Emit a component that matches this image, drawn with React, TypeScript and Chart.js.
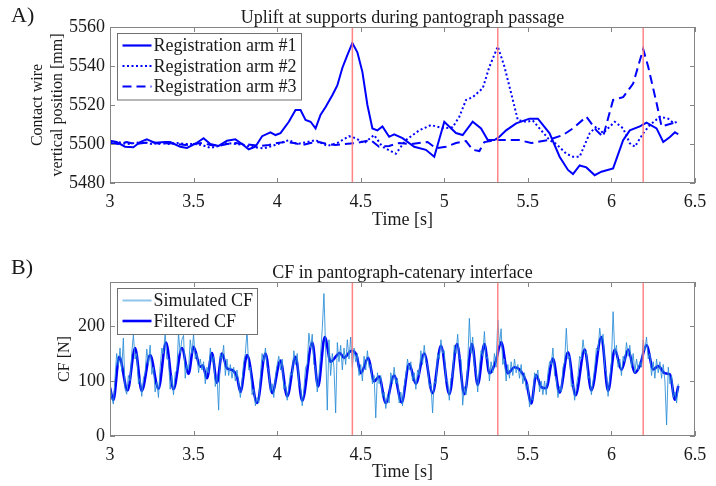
import React, { useEffect, useRef } from 'react';
import { Chart, registerables } from 'chart.js';
Chart.register(...registerables);

const SERIF = '"Liberation Serif", "Times New Roman", serif';
const TEXT = '#1a1a1a';
const AXIS = '#858585';

// ---- Panel A: uplift at supports ----
const arm1Time = [3.00, 3.04, 3.09, 3.14, 3.18, 3.22, 3.27, 3.33, 3.36, 3.42, 3.46, 3.52, 3.56, 3.60, 3.65, 3.70, 3.75, 3.79, 3.83, 3.87, 3.91, 3.96, 3.99, 4.02, 4.07, 4.11, 4.14, 4.17, 4.20, 4.23, 4.26, 4.29, 4.33, 4.36, 4.39, 4.42, 4.45, 4.48, 4.51, 4.54, 4.57, 4.60, 4.63, 4.67, 4.70, 4.75, 4.82, 4.89, 4.94, 5.00, 5.07, 5.11, 5.17, 5.22, 5.26, 5.30, 5.33, 5.37, 5.43, 5.51, 5.56, 5.63, 5.69, 5.74, 5.77, 5.81, 5.85, 5.90, 5.94, 6.01, 6.07, 6.11, 6.17, 6.21, 6.27, 6.31, 6.35, 6.38, 6.40];
const arm1Pos = [5501.7, 5501, 5498.6, 5498.3, 5501, 5502.4, 5500.6, 5501, 5501, 5498.6, 5498, 5500.6, 5503, 5500, 5499, 5501.7, 5502.4, 5500, 5497.3, 5498.6, 5504, 5506, 5504.6, 5505.6, 5511.4, 5517.4, 5517.4, 5512.3, 5511.4, 5508, 5515, 5519, 5525, 5530, 5539, 5545.6, 5551.8, 5547, 5537, 5520, 5508, 5507, 5509, 5503.7, 5505, 5503, 5498.6, 5497, 5493.5, 5511.4, 5505.6, 5504.6, 5511.4, 5508, 5502, 5502, 5503.7, 5507, 5510.6, 5513, 5513, 5505.5, 5493.5, 5486.7, 5484.6, 5489, 5488, 5484, 5485.8, 5487.5, 5502, 5507, 5509, 5511, 5508, 5501, 5503.6, 5506, 5505];

const arm2Time = [3.00, 3.05, 3.10, 3.15, 3.20, 3.25, 3.30, 3.35, 3.40, 3.45, 3.50, 3.55, 3.60, 3.65, 3.70, 3.75, 3.80, 3.85, 3.92, 3.97, 4.02, 4.07, 4.12, 4.18, 4.23, 4.30, 4.36, 4.43, 4.47, 4.52, 4.58, 4.63, 4.71, 4.77, 4.85, 4.92, 5.00, 5.05, 5.09, 5.13, 5.17, 5.23, 5.27, 5.32, 5.36, 5.41, 5.44, 5.49, 5.53, 5.58, 5.63, 5.67, 5.73, 5.77, 5.81, 5.87, 5.91, 5.95, 6.02, 6.07, 6.11, 6.14, 6.19, 6.23, 6.29, 6.34, 6.37, 6.40];
const arm2Pos = [5500.5, 5501, 5500, 5500.5, 5501, 5500, 5500.5, 5500, 5500.5, 5500, 5500, 5499.5, 5498, 5499, 5500.5, 5500, 5499.5, 5498.5, 5497.8, 5499, 5500.5, 5502, 5500, 5501, 5502, 5499, 5500.5, 5504, 5503, 5500.4, 5504.6, 5498.6, 5495, 5502, 5507, 5509.7, 5508, 5508.6, 5514, 5522.6, 5524, 5528.6, 5539.6, 5550, 5539.6, 5522.6, 5512.3, 5511.4, 5512, 5507, 5502, 5500, 5495, 5493.5, 5493.5, 5505.5, 5509, 5505.6, 5511.4, 5508, 5500.4, 5498.6, 5505.5, 5509.7, 5514, 5513, 5510.8, 5511.4];

const arm3Time = [3.00, 3.05, 3.10, 3.15, 3.20, 3.25, 3.30, 3.35, 3.40, 3.45, 3.50, 3.55, 3.60, 3.65, 3.70, 3.75, 3.80, 3.85, 3.90, 3.95, 4.00, 4.05, 4.10, 4.15, 4.20, 4.25, 4.30, 4.35, 4.40, 4.47, 4.56, 4.61, 4.67, 4.73, 4.80, 4.90, 4.95, 5.01, 5.07, 5.13, 5.17, 5.21, 5.24, 5.31, 5.38, 5.45, 5.52, 5.62, 5.71, 5.77, 5.85, 5.91, 5.95, 6.01, 6.07, 6.13, 6.19, 6.22, 6.27, 6.30, 6.37, 6.40];
const arm3Pos = [5500.5, 5500, 5501, 5500, 5500.5, 5501, 5500, 5500.5, 5500, 5499.5, 5500, 5500.5, 5499.5, 5499, 5500, 5500.5, 5500, 5499.5, 5499, 5499.5, 5500.5, 5501, 5500.5, 5499.5, 5500.5, 5501, 5500, 5499.5, 5500, 5500.5, 5502, 5498.6, 5499, 5500.5, 5500, 5501, 5497.8, 5498.6, 5500.5, 5501.5, 5497, 5496.4, 5501, 5502, 5502, 5502, 5500.5, 5502, 5504.6, 5508, 5514, 5507, 5503.7, 5522.6, 5524, 5531, 5548.7, 5539.6, 5521, 5509, 5510.8, 5511];

const supportTimes = [4.45, 5.32, 6.19];

// ---- Panel B: contact force ----
const simStartTime = 3.0;
const simSampleStep = 0.01;
const simulatedCF = [
  92, 72, 58, 105, 150, 128, 160, 118, 178, 85,
  76, 110, 100, 150, 184, 140, 150, 95, 105, 72,
  105, 115, 158, 130, 165, 112, 125, 80, 98, 70,
  125, 160, 150, 188, 140, 140, 85, 110, 75, 115,
  120, 187, 150, 175, 183, 105, 130, 120, 175, 150,
  185, 140, 150, 115, 140, 120, 135, 95, 125, 115,
  160, 135, 145, 90, 110, 47, 150, 140, 165, 110,
  140, 110, 130, 105, 125, 100, 120, 95, 70, 100,
  135, 150, 193, 120, 125, 75, 85, 55, 70, 60,
  110, 150, 135, 160, 125, 120, 80, 95, 70, 110,
  130, 145, 120, 140, 85, 95, 65, 90, 115, 110,
  155, 130, 150, 95, 90, 55, 85, 125, 130, 187,
  160, 185, 130, 125, 80, 110, 150, 195, 259, 160,
  47, 175, 110, 150, 125, 42, 170, 135, 165, 120,
  160, 130, 175, 140, 180, 125, 160, 135, 150, 110,
  130, 100, 145, 120, 155, 125, 130, 95, 110, 33,
  115, 95, 110, 70, 80, 50, 75, 60, 115, 95,
  125, 95, 105, 60, 80, 55, 90, 110, 140, 120,
  135, 100, 115, 85, 120, 110, 155, 130, 165, 135,
  130, 90, 95, 42, 100, 95, 150, 140, 175, 150,
  155, 100, 100, 65, 105, 110, 165, 150, 185, 140,
  140, 56, 90, 75, 130, 214, 150, 180, 125, 120,
  80, 125, 155, 145, 190, 140, 145, 100, 135, 115,
  150, 125, 211, 165, 195, 130, 140, 100, 130, 105,
  135, 110, 140, 115, 130, 105, 130, 95, 115, 85,
  95, 53, 70, 65, 115, 105, 120, 80, 100, 75,
  100, 75, 115, 135, 130, 160, 110, 105, 70, 90,
  80, 125, 135, 196, 140, 145, 90, 95, 65, 90,
  110, 145, 140, 175, 150, 155, 105, 110, 75, 100,
  125, 160, 155, 196, 170, 185, 125, 115, 72, 105,
  135, 226, 150, 165, 125, 140, 110, 145, 135, 170,
  145, 165, 125, 150, 115, 140, 120, 135, 125, 175,
  155, 180, 140, 150, 110, 135, 105, 140, 115, 135,
  105, 130, 100, 20, 125, 95, 110, 70, 80, 60,
  95,
];

const filtTime = [3.00, 3.02, 3.055, 3.105, 3.15, 3.19, 3.24, 3.29, 3.335, 3.38, 3.43, 3.47, 3.50, 3.54, 3.555, 3.58, 3.61, 3.64, 3.67, 3.70, 3.73, 3.76, 3.78, 3.82, 3.88, 3.93, 3.97, 4.02, 4.06, 4.11, 4.15, 4.21, 4.245, 4.285, 4.32, 4.375, 4.40, 4.445, 4.475, 4.50, 4.545, 4.58, 4.61, 4.65, 4.70, 4.745, 4.79, 4.83, 4.88, 4.93, 4.98, 5.03, 5.076, 5.12, 5.166, 5.20, 5.24, 5.27, 5.31, 5.34, 5.38, 5.42, 5.45, 5.49, 5.52, 5.55, 5.58, 5.61, 5.65, 5.69, 5.74, 5.785, 5.84, 5.88, 5.94, 5.98, 6.02, 6.06, 6.10, 6.14, 6.17, 6.21, 6.25, 6.28, 6.32, 6.35, 6.38, 6.40];
const filtCF = [88, 65, 144, 83, 160, 82, 147, 86, 170, 85, 160, 113, 162, 126, 128, 105, 151, 97, 150, 123, 120, 107, 80, 147, 60, 150, 78, 137, 72, 144, 64, 170, 90, 180, 135, 151, 142, 155, 147, 114, 142, 99, 108, 60, 110, 61, 131, 95, 150, 78, 164, 76, 167, 76, 167, 93, 167, 114, 138, 171, 114, 125, 121, 99, 59, 111, 89, 87, 141, 79, 152, 74, 157, 83, 180, 82, 157, 120, 157, 115, 128, 165, 121, 127, 114, 112, 66, 91];

function toPoints(t: number[], v: number[]) {
  return t.map((x, i) => ({ x, y: v[i] }));
}

type LegendRow = { label: string; color: string; width: number; dash: number[] };

function makePanelPlugin(cfg: {
  tag: string; tagY: number; title: string; titleY: number;
  legend: LegendRow[]; legendW: number;
}) {
  return {
    id: 'panel' + cfg.tag,
    afterDatasetsDraw(chart: any) {
      const { ctx, chartArea: a, scales } = chart;
      const xs = scales.x, ys = scales.y;
      ctx.save();
      // support positions
      ctx.strokeStyle = 'rgba(255,120,120,0.9)';
      ctx.lineWidth = 1.5;
      supportTimes.forEach((t) => {
        const px = xs.getPixelForValue(t);
        ctx.beginPath();
        ctx.moveTo(px, a.top);
        ctx.lineTo(px, a.bottom);
        ctx.stroke();
      });
      // axes box
      ctx.strokeStyle = AXIS;
      ctx.lineWidth = 1;
      ctx.strokeRect(Math.round(a.left) + 0.5, Math.round(a.top) + 0.5, Math.round(a.width) - 1, Math.round(a.height) - 1);
      const tl = 5;
      ctx.beginPath();
      xs.ticks.forEach((tk: any) => {
        const px = Math.round(xs.getPixelForValue(tk.value)) + 0.5;
        ctx.moveTo(px, a.bottom); ctx.lineTo(px, a.bottom - tl);
        ctx.moveTo(px, a.top); ctx.lineTo(px, a.top + tl);
      });
      ys.ticks.forEach((tk: any) => {
        const py = Math.round(ys.getPixelForValue(tk.value)) + 0.5;
        ctx.moveTo(a.left, py); ctx.lineTo(a.left + tl, py);
        ctx.moveTo(a.right, py); ctx.lineTo(a.right - tl, py);
      });
      ctx.stroke();
      // legend
      const lx = Math.round(a.left) + 7.5;
      const ly = Math.round(a.top) + 6.5;
      const rowH = 20.5;
      const lh = cfg.legend.length * rowH + 5;
      ctx.fillStyle = '#ffffff';
      ctx.fillRect(lx, ly, cfg.legendW, lh);
      ctx.strokeStyle = '#707070';
      ctx.lineWidth = 1;
      ctx.strokeRect(lx, ly, cfg.legendW, lh);
      ctx.font = '18px ' + SERIF;
      ctx.textBaseline = 'middle';
      ctx.textAlign = 'left';
      cfg.legend.forEach((row, i) => {
        const cy = ly + 12 + i * rowH;
        ctx.strokeStyle = row.color;
        ctx.lineWidth = row.width;
        ctx.setLineDash(row.dash);
        ctx.beginPath();
        ctx.moveTo(lx + 5, cy);
        ctx.lineTo(lx + 34, cy);
        ctx.stroke();
        ctx.setLineDash([]);
        ctx.fillStyle = TEXT;
        ctx.fillText(row.label, lx + 36, cy + 1);
      });
      ctx.restore();
    },
    afterDraw(chart: any) {
      const { ctx, chartArea: a } = chart;
      ctx.save();
      ctx.fillStyle = TEXT;
      ctx.textBaseline = 'middle';
      ctx.textAlign = 'left';
      ctx.font = '22px ' + SERIF;
      ctx.fillText(cfg.tag + ')', 11, cfg.tagY);
      ctx.textAlign = 'center';
      ctx.font = '18px ' + SERIF;
      ctx.fillText(cfg.title, (a.left + a.right) / 2, cfg.titleY);
      ctx.restore();
    },
  };
}

function axisX(titleBottomPad: number, height: number) {
  return {
    type: 'linear' as const,
    min: 3,
    max: 6.5,
    grid: { display: false, drawTicks: false },
    border: { display: false },
    ticks: {
      stepSize: 0.5,
      includeBounds: false,
      autoSkip: false,
      maxRotation: 0,
      padding: 8,
      color: TEXT,
      font: { family: SERIF, size: 18 },
      callback: (v: any) => String(v),
    },
    title: {
      display: true,
      text: 'Time [s]',
      color: TEXT,
      font: { family: SERIF, size: 18, lineHeight: 1.2 },
      padding: { top: 0, bottom: titleBottomPad },
    },
    afterFit: (s: any) => { s.height = height; },
  };
}

function axisY(min: number, max: number, step: number, title: string | string[], titleTop: number) {
  return {
    type: 'linear' as const,
    min,
    max,
    grid: { display: false, drawTicks: false },
    border: { display: false },
    ticks: {
      stepSize: step,
      includeBounds: false,
      padding: 5,
      color: TEXT,
      font: { family: SERIF, size: 18 },
      callback: (v: any) => String(v),
    },
    title: {
      display: true,
      text: title,
      color: TEXT,
      font: { family: SERIF, size: 16, lineHeight: 1.25 },
      padding: { top: titleTop, bottom: 0 },
    },
    afterFit: (s: any) => { s.width = 110; },
  };
}

export default function App() {
  const topRef = useRef<HTMLCanvasElement>(null);
  const botRef = useRef<HTMLCanvasElement>(null);

  useEffect(() => {
    const blue = '#0000ff';
    const top = new Chart(topRef.current as HTMLCanvasElement, {
      type: 'line',
      data: {
        datasets: [
          { label: 'Registration arm #1', data: toPoints(arm1Time, arm1Pos), borderColor: blue, borderWidth: 2, pointRadius: 0, tension: 0 },
          { label: 'Registration arm #2', data: toPoints(arm2Time, arm2Pos), borderColor: blue, borderWidth: 2, borderDash: [2, 2.5], pointRadius: 0, tension: 0 },
          { label: 'Registration arm #3', data: toPoints(arm3Time, arm3Pos), borderColor: blue, borderWidth: 2, borderDash: [9, 5], pointRadius: 0, tension: 0 },
        ],
      },
      options: {
        responsive: false,
        animation: false,
        devicePixelRatio: 1,
        layout: { padding: { top: 27, right: 21, bottom: 0, left: 0 } },
        plugins: { legend: { display: false }, tooltip: { enabled: false } },
        scales: {
          x: axisX(12, 60),
          y: axisY(5480, 5560, 20, ['Contact wire', 'vertical position [mm]'], 28),
        },
      } as any,
      plugins: [makePanelPlugin({
        tag: 'A', tagY: 16, title: 'Uplift at supports during pantograph passage', titleY: 18,
        legendW: 184,
        legend: [
          { label: 'Registration arm #1', color: blue, width: 2.2, dash: [] },
          { label: 'Registration arm #2', color: blue, width: 2.2, dash: [2, 2.5] },
          { label: 'Registration arm #3', color: blue, width: 2.2, dash: [9, 5] },
        ],
      })],
    });

    const simPoints = simulatedCF.map((v, i) => ({ x: simStartTime + i * simSampleStep, y: v }));
    const bot = new Chart(botRef.current as HTMLCanvasElement, {
      type: 'line',
      data: {
        datasets: [
          { label: 'Simulated CF', data: simPoints, borderColor: 'rgba(40,140,215,0.85)', borderWidth: 1, pointRadius: 0, tension: 0 },
          { label: 'Filtered CF', data: toPoints(filtTime, filtCF), borderColor: blue, borderWidth: 2.6, pointRadius: 0, cubicInterpolationMode: 'monotone' },
        ],
      },
      options: {
        responsive: false,
        animation: false,
        devicePixelRatio: 1,
        layout: { padding: { top: 39, right: 21, bottom: 0, left: 0 } },
        plugins: { legend: { display: false }, tooltip: { enabled: false } },
        scales: {
          x: axisX(3, 50),
          y: axisY(0, 280, 100, 'CF [N]', 55),
        },
      } as any,
      plugins: [makePanelPlugin({
        tag: 'B', tagY: 25, title: 'CF in pantograph-catenary interface', titleY: 30,
        legendW: 140,
        legend: [
          { label: 'Simulated CF', color: '#8ec3ea', width: 2, dash: [] },
          { label: 'Filtered CF', color: blue, width: 2.6, dash: [] },
        ],
      })],
    });

    return () => { top.destroy(); bot.destroy(); };
  }, []);

  return (
    <div style={{ position: 'fixed', left: 0, top: 0, width: 716, height: 486, background: '#ffffff' }}>
      <canvas ref={topRef} width={716} height={243} style={{ position: 'absolute', left: 0, top: 0 }} />
      <canvas ref={botRef} width={716} height={243} style={{ position: 'absolute', left: 0, top: 243 }} />
    </div>
  );
}
